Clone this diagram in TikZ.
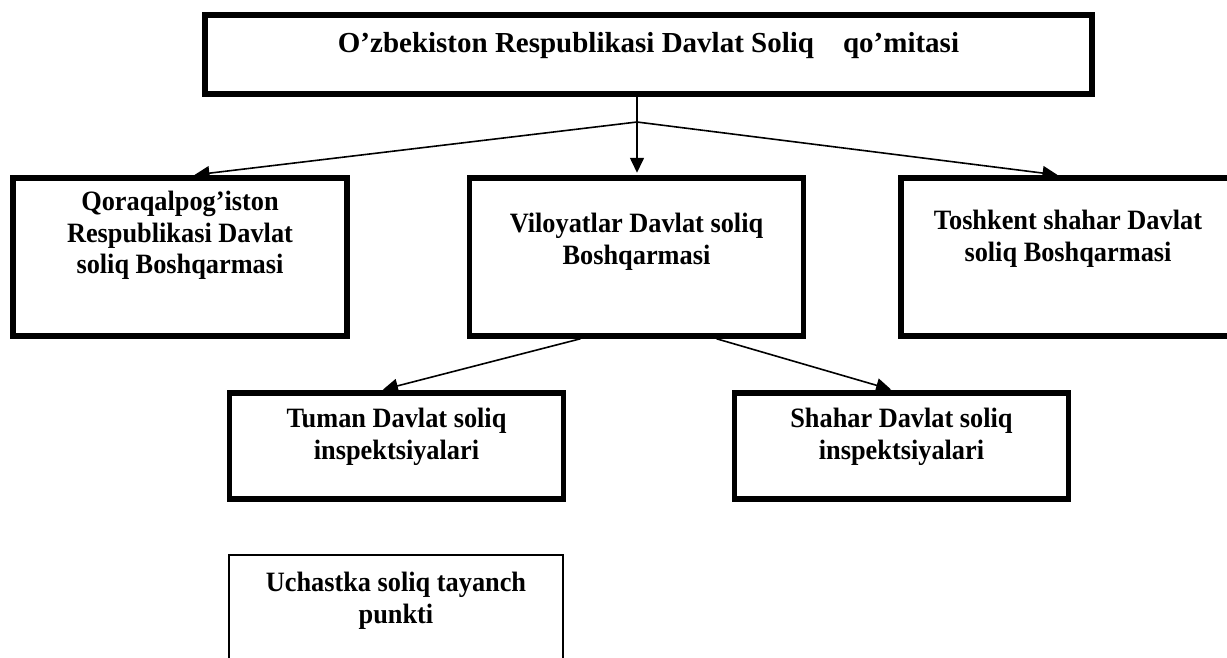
\documentclass[tikz,border=0pt]{standalone}
\usepackage{fontspec}
\setmainfont{Liberation Serif}
\newfontfamily\boxfont[FakeStretch=0.94]{Liberation Serif}
\usetikzlibrary{arrows.meta}

\begin{document}
\begin{tikzpicture}[
    x=1pt, y=-1pt,
    >={Triangle[length=15pt, width=14pt]},
    box/.style={draw, line width=5.5pt, inner sep=0pt,
      minimum width=334pt, minimum height=158pt},
    lowbox/.style={box, minimum height=106pt},
    thinbox/.style={lowbox, line width=1.5pt, minimum height=110pt},
    txt/.style={anchor=north, inner sep=0pt, align=center,
      font=\boxfont\fontsize{28}{31.5}\selectfont\bfseries},
    link/.style={->, line width=1.6pt, shorten >=2.5pt}]
    \useasboundingbox (0, 0) rectangle (1227, 657);
    \clip (0, 0) rectangle (1227, 657);
    % top level
    \node[box, minimum width=887pt, minimum height=79pt] (dsq) at (648.5, 54.5) {};
    \node[txt, font=\fontsize{29}{35}\selectfont\bfseries] (dsqtext)
      at ([yshift=-20pt]dsq.north)
      {O’zbekiston Respublikasi Davlat Soliq\ \ \ \ qo’mitasi};
    % second level
    \node[box] (qq) at (180, 257) {};
    \node[txt] (qqtext) at ([yshift=-16pt]qq.north)
      {Qoraqalpog’iston\\Respublikasi Davlat\\soliq Boshqarmasi};
    \node[box] (vil) at (636.5, 257) {};
    \node[txt] (viltext) at ([yshift=-38pt]vil.north)
      {Viloyatlar Davlat soliq\\Boshqarmasi};
    \node[box] (tosh) at (1068, 257) {};
    \node[txt] (toshtext) at ([yshift=-35pt]tosh.north)
      {Toshkent shahar Davlat\\soliq Boshqarmasi};
    % third level
    \node[lowbox] (tum) at (396.5, 446) {};
    \node[txt] (tumtext) at ([yshift=-18pt]tum.north)
      {Tuman Davlat soliq\\inspektsiyalari};
    \node[lowbox] (sha) at (901.5, 446) {};
    \node[txt] (shatext) at ([yshift=-18pt]sha.north)
      {Shahar Davlat soliq\\inspektsiyalari};
    \node[thinbox] (uch) at (396, 610) {};
    \node[txt] (uchtext) at ([yshift=-18pt]uch.north)
      {Uchastka soliq tayanch\\punkti};
    % connectors
    \coordinate (fork) at (637, 122);
    \draw[line width=1.6pt] (fork |- dsq.south) -- (fork);
    \draw[link] (fork) -- ([xshift=12pt]qq.north);
    \draw[link] (fork) -- (fork |- vil.north);
    \draw[link] (fork) -- ([xshift=-8pt]tosh.north);
    \draw[link] ([xshift=-56pt]vil.south) -- ([xshift=-16pt]tum.north);
    \draw[link] ([xshift=80pt]vil.south) -- ([xshift=-8pt]sha.north);
  \end{tikzpicture}
\end{document}
